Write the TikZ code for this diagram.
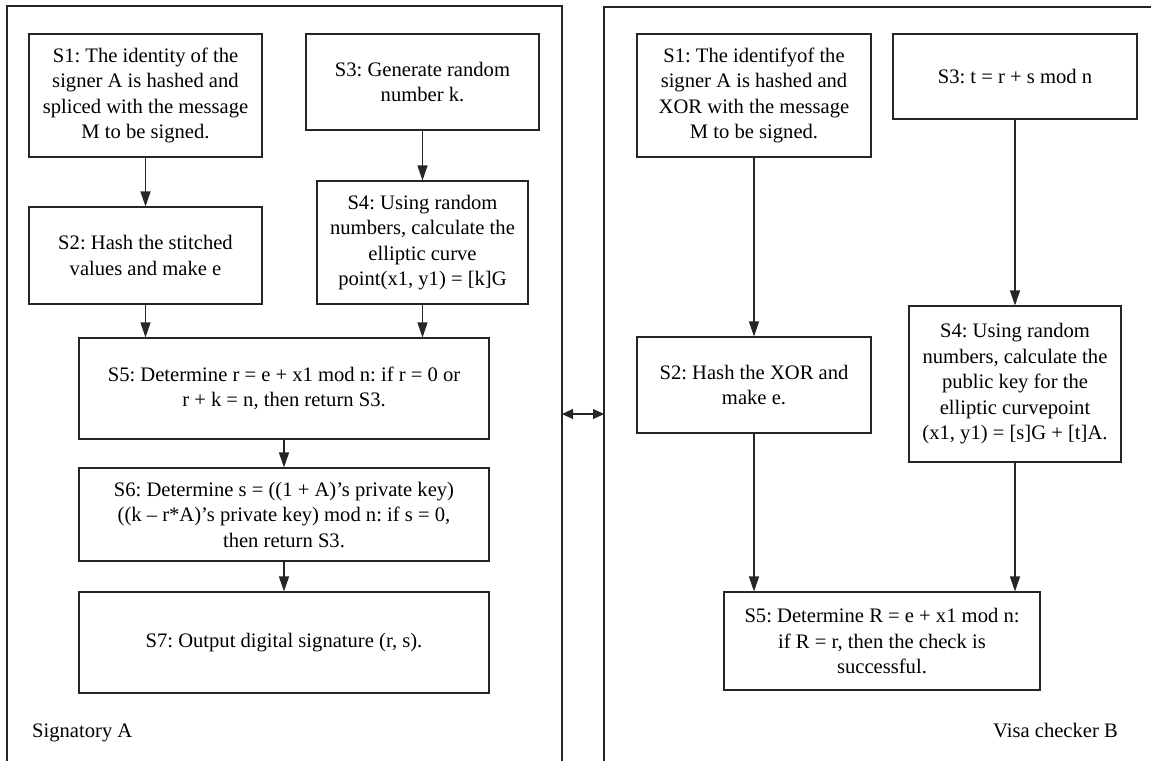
\documentclass[tikz,border=0pt]{standalone}
\usepackage{fontspec}
\setmainfont{Liberation Serif}
\usepackage{tikz}
\usetikzlibrary{arrows.meta, positioning, calc}
\frenchspacing

\begin{document}
\begin{tikzpicture}[x=1pt, y=-1pt,
    stepbox/.style={rectangle, draw=black!85, line width=1.1pt, align=center, inner sep=0pt, font=\fontsize{20.6}{25.5}\selectfont},
    panel/.style={draw=black!85, line width=1.1pt},
    flow/.style={draw=black!85, line width=1.1pt, -{Triangle[length=15pt, width=10pt]}},
    twoway/.style={draw=black!85, line width=1.1pt, {Triangle[length=11pt, width=10pt]}-{Triangle[length=11pt, width=10pt]}},
    side/.style={font=\fontsize{20.6}{25.5}\selectfont, inner sep=0pt}]
\useasboundingbox (0,0) rectangle (1151,761);
% 面板
\draw[panel] (7,761) -- (7,6) -- (562,6) -- (562,761);
\draw[panel] (604,761) -- (604,7) -- (1151,7);
\node[side, anchor=base west] (nameA) at (32,737) {Signatory A};
\node[side, anchor=base east] (nameB) at (1118,737) {Visa checker B};
% 签名者 A
\node[stepbox, minimum width=233, minimum height=123] (s1A) at (145.5,95.5) {S1: The identity of the\\signer A is hashed and\\spliced with the message\\M to be signed.};
\node[stepbox, minimum width=233, minimum height=96] (s3A) at (422.5,82) {S3: Generate random\\number k.};
\node[stepbox, minimum width=233, minimum height=97] (s2A) at (145.5,255.5) {S2: Hash the stitched\\values and make e};
\node[stepbox, minimum width=211, minimum height=123] (s4A) at (422.5,242.5) {S4: Using random\\numbers, calculate the\\elliptic curve\\point(x1, y1) = [k]G};
\node[stepbox, minimum width=410, minimum height=101] (s5A) at (284,388.5) {S5: Determine r = e + x1 mod n: if r = 0 or\\r + k = n, then return S3.};
\node[stepbox, minimum width=410, minimum height=93] (s6A) at (284,514.5) {S6: Determine s = ((1 + A)'s private key)\\((k – r*A)'s private key) mod n: if s = 0,\\then return S3.};
\node[stepbox, minimum width=410, minimum height=101] (s7A) at (284,642.5) {S7: Output digital signature (r, s).};
% 验签者 B
\node[stepbox, minimum width=234, minimum height=123] (s1B) at (754,95.5) {S1: The identifyof the\\signer A is hashed and\\XOR with the message\\M to be signed.};
\node[stepbox, minimum width=244, minimum height=85] (s3B) at (1015,76.5) {S3: t = r + s mod n};
\node[stepbox, minimum width=234, minimum height=96] (s2B) at (754,385) {S2: Hash the XOR and\\make e.};
\node[stepbox, minimum width=212, minimum height=156] (s4B) at (1015,384) {S4: Using random\\numbers, calculate the\\public key for the\\elliptic curvepoint\\(x1, y1) = [s]G + [t]A.};
\node[stepbox, minimum width=316, minimum height=98] (s5B) at (882,641) {S5: Determine R = e + x1 mod n:\\if R = r, then the check is\\successful.};
% 连线
\draw[flow] (s1A) -- (s2A);
\draw[flow] (s3A) -- (s4A);
\draw[flow] (s2A) -- (s2A |- s5A.north);
\draw[flow] (s4A) -- (s4A |- s5A.north);
\draw[flow] (s5A) -- (s6A);
\draw[flow] (s6A) -- (s7A);
\draw[flow] (s1B) -- (s2B);
\draw[flow] (s3B) -- (s4B);
\draw[flow] (s2B) -- (s2B |- s5B.north);
\draw[flow] (s4B) -- (s4B |- s5B.north);
\coordinate (edgeA) at (562,414);
\coordinate (edgeB) at (604,414);
\draw[twoway] (edgeA) -- (edgeB);
\end{tikzpicture}
\end{document}
